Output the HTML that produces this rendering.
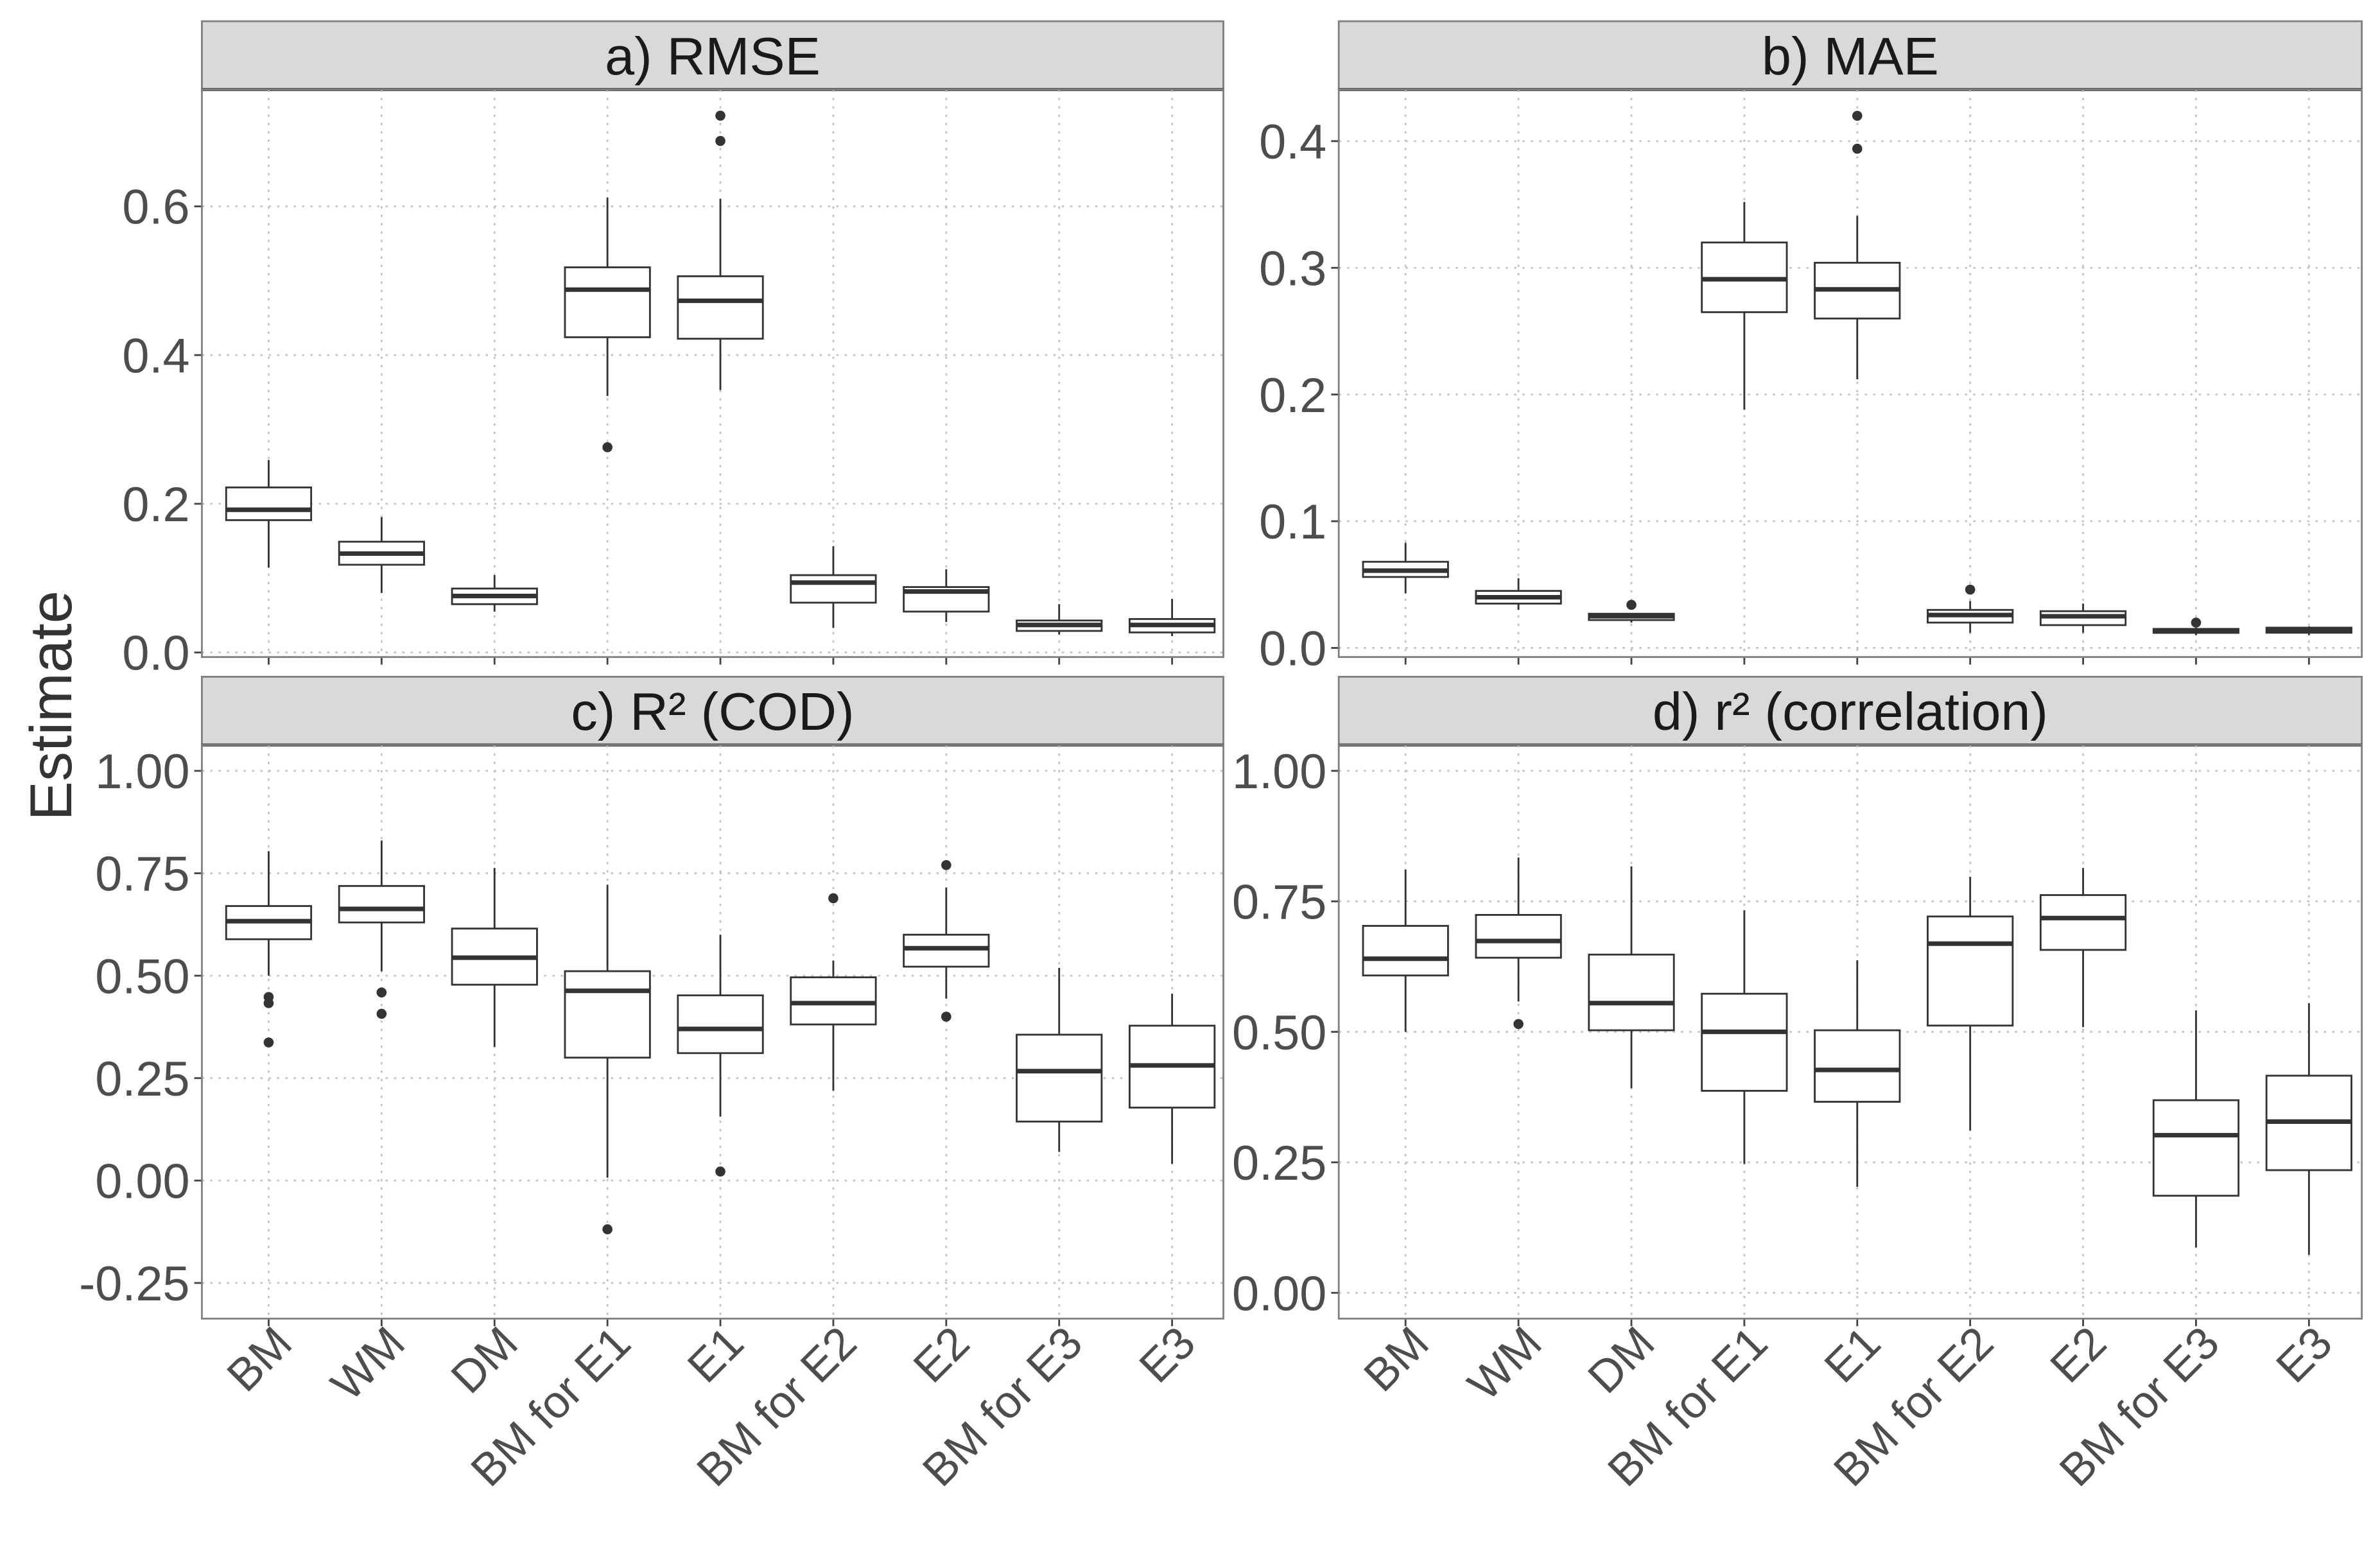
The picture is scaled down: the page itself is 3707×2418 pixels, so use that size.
<!DOCTYPE html>
<html><head><meta charset="utf-8"><style>
html,body{margin:0;padding:0;background:#fff}
svg{display:block}
text{font-family:"Liberation Sans",Arial,sans-serif}
</style></head><body>
<svg id="chart" width="3707" height="2418" viewBox="0 0 1568 1022.8" preserveAspectRatio="none" xmlns="http://www.w3.org/2000/svg">
<text x="0" y="0" transform="translate(47,465) rotate(-90)" text-anchor="middle" font-size="39" fill="#333">Estimate</text>
</svg>
<script>
const categories = ["BM","WM","DM","BM for E1","E1","BM for E2","E2","BM for E3","E3"];
const panelTitles = ["a) RMSE","b) MAE","c) R² (COD)","d) r² (correlation)"];
// [lowWhisker, Q1, median, Q3, highWhisker]
const rmseStats = [[0.114,0.178,0.192,0.222,0.259],[0.080,0.118,0.133,0.149,0.182],[0.055,0.065,0.076,0.086,0.104],[0.345,0.424,0.488,0.518,0.612],[0.353,0.422,0.473,0.506,0.610],[0.033,0.067,0.094,0.104,0.143],[0.041,0.055,0.082,0.088,0.112],[0.024,0.029,0.037,0.043,0.065],[0.022,0.027,0.037,0.045,0.072]];
const rmseOutliers = [[],[],[],[0.276],[0.722,0.688],[],[],[],[]];
const maeStats = [[0.043,0.056,0.061,0.068,0.083],[0.030,0.035,0.040,0.045,0.055],[0.020,0.022,0.025,0.027,0.027],[0.188,0.265,0.291,0.320,0.352],[0.212,0.260,0.283,0.304,0.341],[0.012,0.020,0.026,0.030,0.037],[0.012,0.018,0.025,0.029,0.035],[0.010,0.012,0.013,0.015,0.016],[0.010,0.012,0.014,0.016,0.017]];
const maeOutliers = [[],[],[0.034],[],[0.420,0.394],[0.046],[],[0.020],[]];
const codStats = [[0.500,0.589,0.633,0.670,0.804],[0.511,0.630,0.663,0.719,0.830],[0.326,0.478,0.544,0.615,0.763],[0.007,0.300,0.463,0.511,0.722],[0.156,0.311,0.370,0.452,0.600],[0.219,0.381,0.433,0.496,0.537],[0.444,0.522,0.567,0.600,0.715],[0.070,0.144,0.267,0.356,0.519],[0.041,0.178,0.281,0.378,0.456]];
const codOutliers = [[0.448,0.433,0.337],[0.459,0.407],[],[-0.119],[0.022],[0.689],[0.770,0.400],[],[]];
const corStats = [[0.500,0.608,0.640,0.703,0.811],[0.558,0.642,0.674,0.724,0.834],[0.392,0.503,0.555,0.648,0.817],[0.247,0.387,0.500,0.573,0.733],[0.203,0.366,0.427,0.503,0.637],[0.311,0.512,0.669,0.721,0.797],[0.509,0.657,0.718,0.762,0.814],[0.087,0.186,0.302,0.369,0.541],[0.073,0.235,0.328,0.416,0.555]];
const corOutliers = [[],[0.515],[],[],[],[],[],[],[]];
const rmseTicks = [0.0,0.2,0.4,0.6];
const rmseTickLabels = ["0.0","0.2","0.4","0.6"];
const maeTicks = [0.0,0.1,0.2,0.3,0.4];
const maeTickLabels = ["0.0","0.1","0.2","0.3","0.4"];
const codTicks = [-0.25,0,0.25,0.5,0.75,1.0];
const codTickLabels = ["-0.25","0.00","0.25","0.50","0.75","1.00"];
const corTicks = [0,0.25,0.5,0.75,1.0];
const corTickLabels = ["0.00","0.25","0.50","0.75","1.00"];

const NS="http://www.w3.org/2000/svg";
const svg=document.getElementById('chart');
function mk(tag,attrs,parent){const e=document.createElementNS(NS,tag);for(const k in attrs)e.setAttribute(k,attrs[k]);(parent||svg).appendChild(e);return e;}

const panels=[
 {title:panelTitles[0],stats:rmseStats,out:rmseOutliers,ticks:rmseTicks,labels:rmseTickLabels,L:133,R:806,sT:14,sB:59,B:433,v0:0,p0:430,v1:0.6,p1:136,xlab:false,key:'rmse'},
 {title:panelTitles[1],stats:maeStats,out:maeOutliers,ticks:maeTicks,labels:maeTickLabels,L:882,R:1556,sT:14,sB:59,B:433,v0:0,p0:427,v1:0.4,p1:93,xlab:false,key:'mae'},
 {title:panelTitles[2],stats:codStats,out:codOutliers,ticks:codTicks,labels:codTickLabels,L:133,R:806,sT:446,sB:491,B:869,v0:0,p0:778,v1:1,p1:508,xlab:true,key:'cod'},
 {title:panelTitles[3],stats:corStats,out:corOutliers,ticks:corTicks,labels:corTickLabels,L:882,R:1556,sT:446,sB:491,B:869,v0:0,p0:852,v1:1,p1:508,xlab:true,key:'cor'}
];

panels.forEach(p=>{
  const g=mk('g',{});
  
  
  const y=v=>p.p0+(v-p.v0)*(p.p1-p.p0)/(p.v1-p.v0);
  const step=74.4;
  const x=i=>p.L+44+step*i;
  const strip=mk('rect',{x:p.L,y:p.sT,width:p.R-p.L,height:p.sB-p.sT,fill:'#d9d9d9',stroke:'#808080','stroke-width':1.2},g);
  
  
  mk('line',{x1:p.L,x2:p.R,y1:p.sB,y2:p.sB,stroke:'#444','stroke-width':2},g);
  const st=mk('text',{x:(p.L+p.R)/2,y:p.sB-10,'text-anchor':'middle','font-size':35,fill:'#1a1a1a'},g);
  st.textContent=p.title;
  
  
  p.ticks.forEach((t,i)=>{
    const yy=y(t);
    mk('line',{x1:p.L,x2:p.R,y1:yy,y2:yy,stroke:'#c4c4c4','stroke-width':1.2,'stroke-dasharray':'1.5,4'},g);
    mk('line',{x1:p.L-5,x2:p.L,y1:yy,y2:yy,stroke:'#444','stroke-width':1.2},g);
    const tl=mk('text',{x:p.L-8,y:yy+11.5,'text-anchor':'end','font-size':32,fill:'#4d4d4d'},g);
    tl.textContent=p.labels[i];
    
    
  });
  categories.forEach((c,i)=>{
    mk('line',{x1:x(i),x2:x(i),y1:p.sB,y2:p.B,stroke:'#c4c4c4','stroke-width':1.2,'stroke-dasharray':'1.5,4'},g);
    mk('line',{x1:x(i),x2:x(i),y1:p.B,y2:p.B+5,stroke:'#444','stroke-width':1.2},g);
    if(p.xlab){
      const xl=mk('text',{x:0,y:0,transform:`translate(${x(i)+17},${p.B+18}) rotate(-45)`,'text-anchor':'end','font-size':30,fill:'#4d4d4d'},g);
      xl.textContent=c;
      
      
    }
  });
  const bw=56;
  p.stats.forEach((s,i)=>{
    const bg=mk('g',{},g);
    
    
    const cx=x(i);
    mk('line',{x1:cx,x2:cx,y1:y(s[0]),y2:y(s[1]),stroke:'#333','stroke-width':1.2},bg);
    mk('line',{x1:cx,x2:cx,y1:y(s[3]),y2:y(s[4]),stroke:'#333','stroke-width':1.2},bg);
    mk('rect',{x:cx-bw/2,y:y(s[3]),width:bw,height:Math.max(0.5,y(s[1])-y(s[3])),fill:'#fff',stroke:'#333','stroke-width':1.2},bg);
    mk('line',{x1:cx-bw/2,x2:cx+bw/2,y1:y(s[2]),y2:y(s[2]),stroke:'#333','stroke-width':3},bg);
    p.out[i].forEach(o=>{
      const d=mk('circle',{cx:cx,cy:y(o),r:3.3,fill:'#333'},bg);
      
      
    });
  });
  mk('rect',{x:p.L,y:p.sB,width:p.R-p.L,height:p.B-p.sB,fill:'none',stroke:'#808080','stroke-width':1.2},g);
});
</script>
</body></html>
